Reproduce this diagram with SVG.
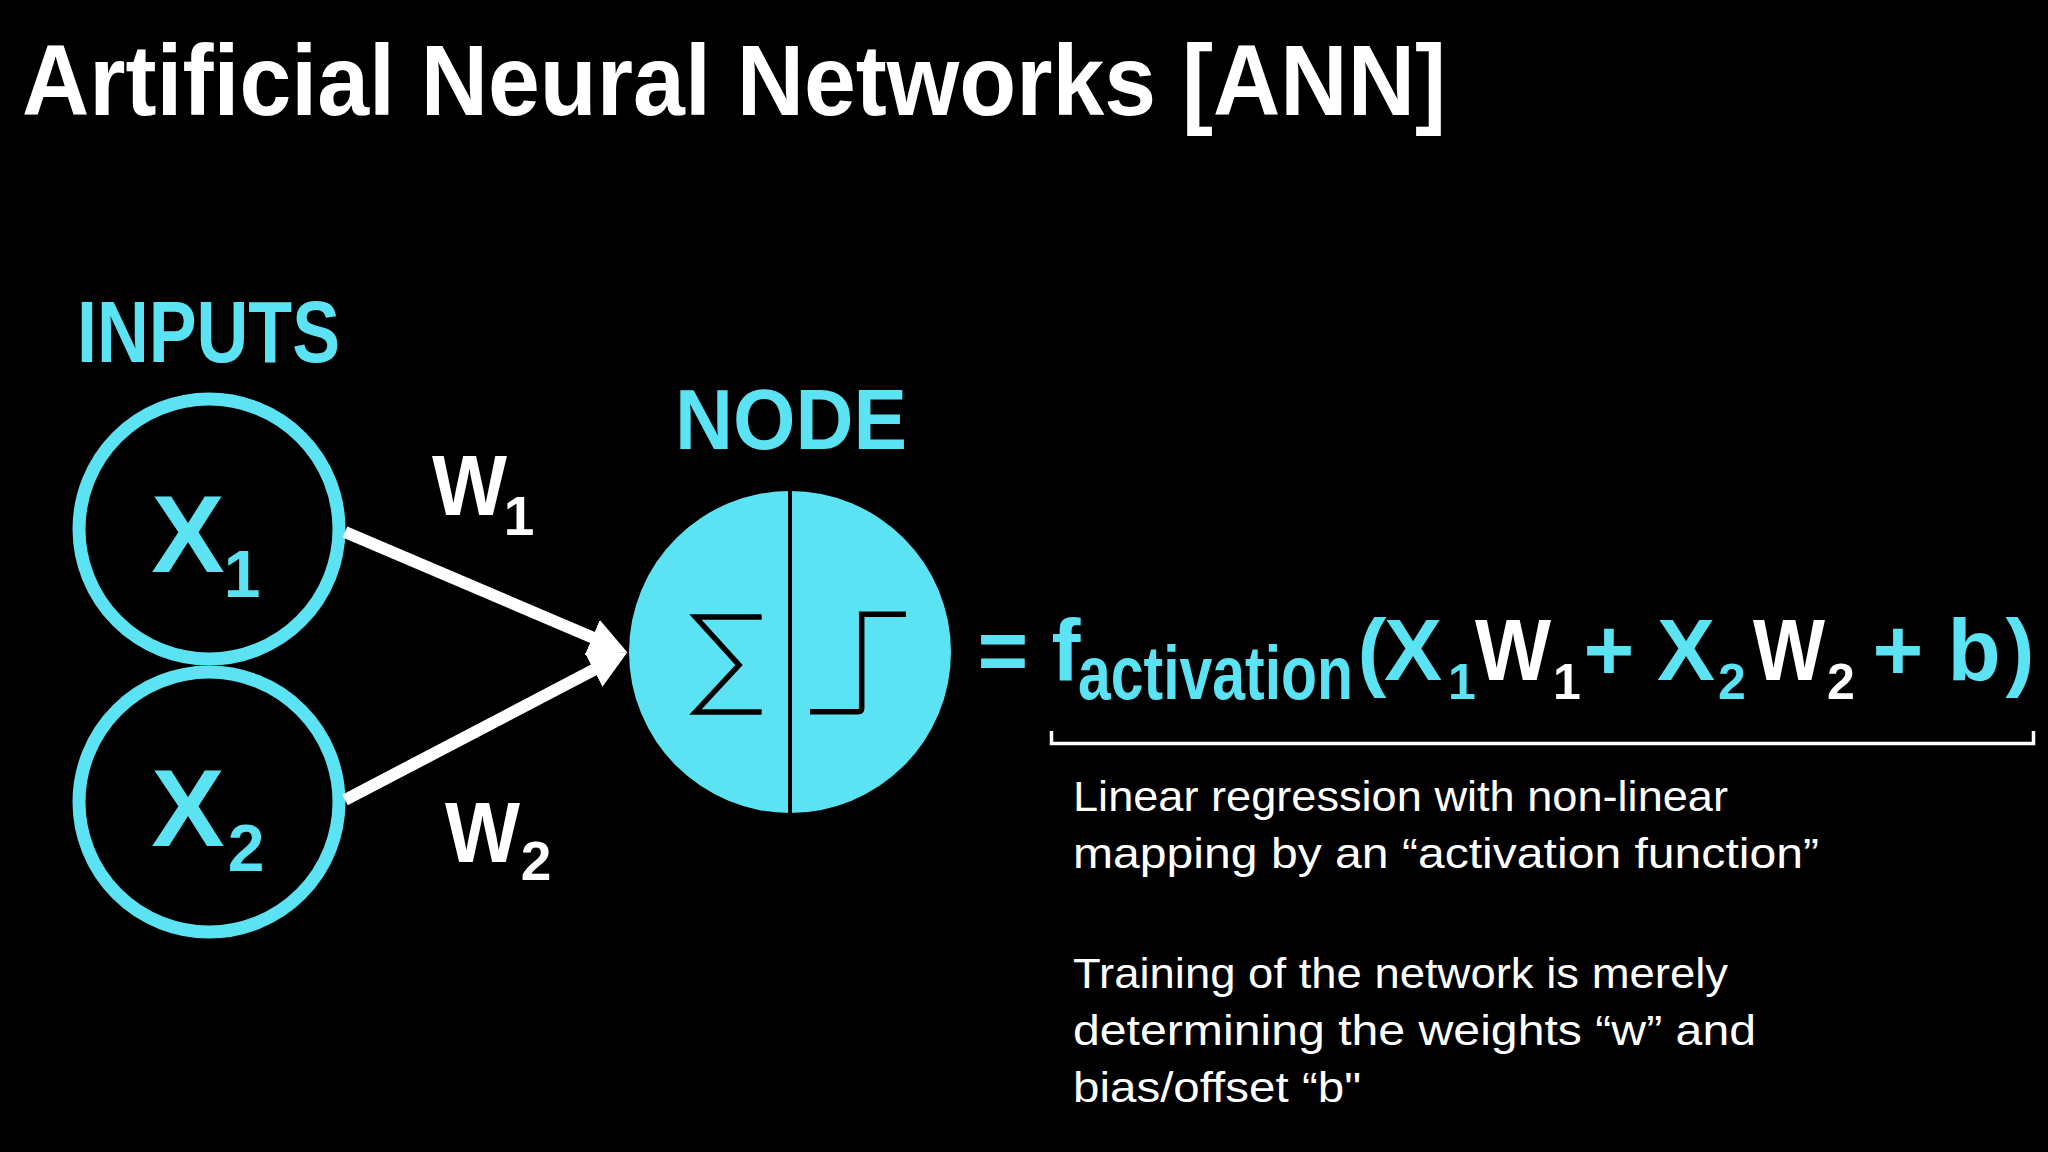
<svg xmlns="http://www.w3.org/2000/svg" width="2048" height="1152" viewBox="0 0 2048 1152">
  <style>
    .cy { fill: #5be2f3; }
    .wh { fill: #ffffff; }
    .b { font-family: "Liberation Sans", Arial, sans-serif; font-weight: bold; }
    .r { font-family: "Liberation Sans", Arial, sans-serif; font-weight: normal; }
    .mid { text-anchor: middle; }
    .desc { font-family: "Liberation Sans", Arial, sans-serif; font-size: 42px; fill: #ffffff; }
    .ring { fill: none; stroke: #5be2f3; stroke-width: 13; }
    .edge { stroke: #ffffff; stroke-width: 12; fill: none; marker-end: url(#arrow); }
    .glyph { fill: none; stroke: #000; stroke-width: 5.5; }
  </style>
  <defs>
    <marker id="arrow" markerUnits="userSpaceOnUse" markerWidth="40" markerHeight="40" refX="13" refY="19" orient="auto">
      <path d="M0,0 L38,19 L0,38 Z" fill="#ffffff"/>
    </marker>
  </defs>
  <rect x="0" y="0" width="2048" height="1152" fill="#000000"/>

  <g id="title">
    <text class="b wh" x="22" y="115" font-size="100" textLength="1424" lengthAdjust="spacingAndGlyphs">Artificial Neural Networks [ANN]</text>
  </g>

  <g id="inputs-label">
    <text class="b cy" x="77" y="362" font-size="88" textLength="263" lengthAdjust="spacingAndGlyphs">INPUTS</text>
  </g>

  <g id="node-x1">
    <circle class="ring" cx="209" cy="529" r="130"/>
    <text class="b cy mid" x="188" y="572" font-size="110">X</text>
    <text class="b cy mid" x="242" y="597" font-size="66">1</text>
  </g>

  <g id="node-x2">
    <circle class="ring" cx="209" cy="802" r="130"/>
    <text class="b cy mid" x="188" y="846" font-size="110">X</text>
    <text class="b cy mid" x="246" y="871" font-size="66">2</text>
  </g>

  <g id="node-label">
    <text class="b cy" x="675" y="449" font-size="86" textLength="232" lengthAdjust="spacingAndGlyphs">NODE</text>
  </g>

  <g id="node-neuron">
    <circle cx="790" cy="652" r="161" fill="#5be2f3"/>
    <line x1="790" y1="490" x2="790" y2="814" stroke="#000" stroke-width="4"/>
    <path class="glyph" d="M761.7,617 H695.5 L739,665 L695.5,712 H761.7" stroke-linejoin="miter"/>
    <path class="glyph" d="M810,711.7 H858 Q861.7,711.7 861.7,708 V614.3 H906"/>
  </g>

  <g id="connectors">
    <path class="edge" d="M345,532 L604.3,642.5"/>
    <path class="edge" d="M345,800 L605.2,663.9"/>
    <g id="w1">
      <text class="b wh" x="432" y="515" font-size="85" textLength="75" lengthAdjust="spacingAndGlyphs">W</text>
      <text class="b wh mid" x="519" y="535" font-size="55">1</text>
    </g>
    <g id="w2">
      <text class="b wh" x="445" y="862" font-size="85" textLength="75" lengthAdjust="spacingAndGlyphs">W</text>
      <text class="b wh mid" x="536" y="880" font-size="55">2</text>
    </g>
  </g>

  <g id="formula">
    <text class="b cy mid" x="1003" y="680" font-size="87">=</text>
    <text class="b cy mid" x="1066" y="680" font-size="87">f</text>
    <text class="b cy" x="1078" y="699" font-size="76" textLength="275" lengthAdjust="spacingAndGlyphs">activation</text>
    <text class="b cy mid" x="1372" y="680" font-size="87">(</text>
    <text class="b cy mid" x="1413" y="680" font-size="87">X</text>
    <text class="b cy mid" x="1462" y="699" font-size="50">1</text>
    <text class="b wh mid" x="1513" y="680" font-size="87" textLength="76" lengthAdjust="spacingAndGlyphs">W</text>
    <text class="b wh mid" x="1567" y="699" font-size="50">1</text>
    <text class="b cy mid" x="1609" y="680" font-size="87">+</text>
    <text class="b cy mid" x="1686" y="680" font-size="87">X</text>
    <text class="b cy mid" x="1732" y="699" font-size="50">2</text>
    <text class="b wh mid" x="1789" y="680" font-size="87" textLength="72" lengthAdjust="spacingAndGlyphs">W</text>
    <text class="b wh mid" x="1841" y="699" font-size="50">2</text>
    <text class="b cy mid" x="1898" y="680" font-size="87">+</text>
    <text class="b cy mid" x="1974" y="680" font-size="87">b</text>
    <text class="b cy mid" x="2020" y="680" font-size="87">)</text>
  </g>

  <g id="bracket">
    <path d="M1051.5,731 V743.5 H2033.5 V731" fill="none" stroke="#ffffff" stroke-width="3.5"/>
  </g>

  <g id="description">
    <text class="desc" x="1073" y="811" textLength="655" lengthAdjust="spacingAndGlyphs">Linear regression with non-linear</text>
    <text class="desc" x="1073" y="868" textLength="746" lengthAdjust="spacingAndGlyphs">mapping by an “activation function”</text>
    <text class="desc" x="1073" y="988" textLength="655" lengthAdjust="spacingAndGlyphs">Training of the network is merely</text>
    <text class="desc" x="1073" y="1045" textLength="683" lengthAdjust="spacingAndGlyphs">determining the weights “w” and</text>
    <text class="desc" x="1073" y="1102" textLength="288" lengthAdjust="spacingAndGlyphs">bias/offset “b"</text>
  </g>
</svg>
